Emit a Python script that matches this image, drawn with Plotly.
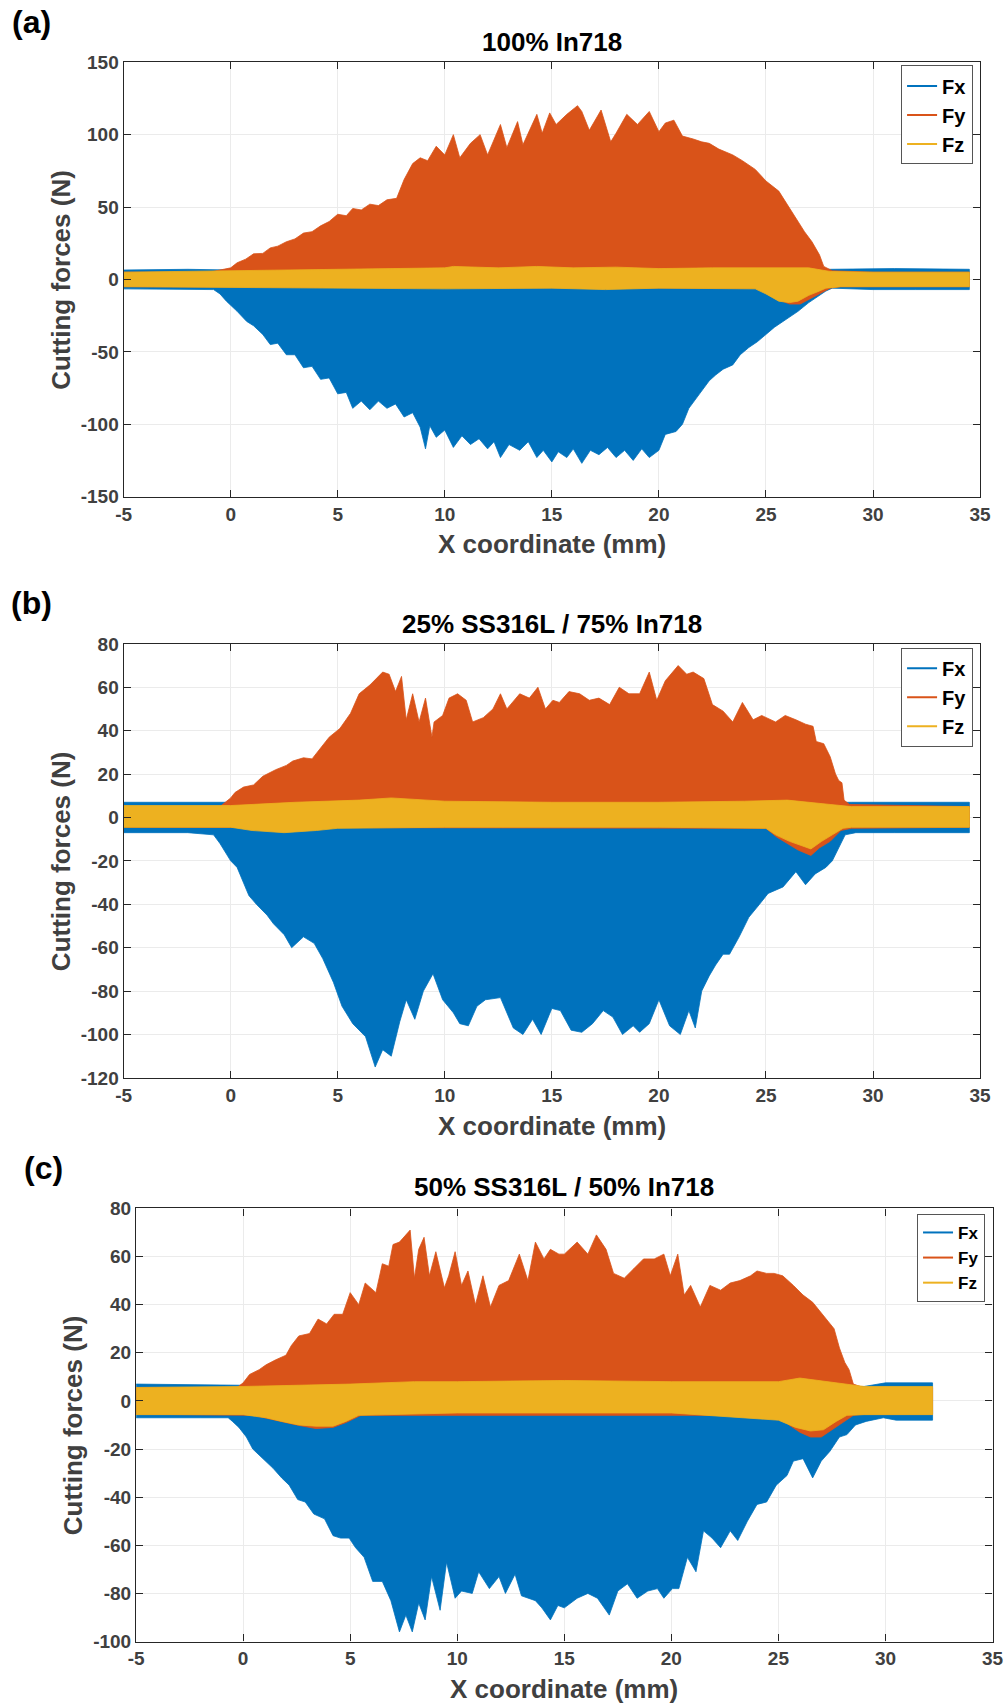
import plotly.graph_objects as go

# ---------------- colours ----------------
C_FX = "#0072BD"
C_FY = "#D95319"
C_FZ = "#EDB120"

# ---------------- axis ticks ----------------
X_TICKS = [-5, 0, 5, 10, 15, 20, 25, 30, 35]
X_TICKTEXT = ["-5", "0", "5", "10", "15", "20", "25", "30", "35"]
A_Y_TICKS = [-150, -100, -50, 0, 50, 100, 150]
A_Y_TICKTEXT = ["-150", "-100", "-50", "0", "50", "100", "150"]
B_Y_TICKS = [-120, -100, -80, -60, -40, -20, 0, 20, 40, 60, 80]
B_Y_TICKTEXT = ["-120", "-100", "-80", "-60", "-40", "-20", "0", "20", "40", "60", "80"]
C_Y_TICKS = [-100, -80, -60, -40, -20, 0, 20, 40, 60, 80]
C_Y_TICKTEXT = ["-100", "-80", "-60", "-40", "-20", "0", "20", "40", "60", "80"]

TITLES = ["100% In718", "25% SS316L / 75% In718", "50% SS316L / 50% In718"]
PANEL_LABELS = ["(a)", "(b)", "(c)"]
SERIES = ["Fx", "Fy", "Fz"]

# ======================= panel (a): 100% In718 =======================
a_fx_top_x = [-5, -2, 0, 15, 28, 31, 34.5]
a_fx_top = [6.5, 7.0, 6.5, 5.5, 7.0, 7.5, 7.0]
a_fx_bot_x = [-5, -2, -0.8, -0.5, -0.2, 0.3, 0.75, 1.07, 1.5, 1.85, 2.2, 2.6, 3.0, 3.4, 3.8, 4.2,
              4.6, 5.0, 5.4, 5.7, 6.1, 6.5, 6.9, 7.3, 7.7, 8.1, 8.5, 8.85, 9.1, 9.3, 9.6, 10.0,
              10.4, 10.8, 11.2, 11.6, 12.0, 12.3, 12.6, 13.0, 13.5, 13.9, 14.3, 14.6, 15.0, 15.3,
              15.7, 16.0, 16.4, 16.8, 17.2, 17.6, 18.0, 18.4, 18.8, 19.2, 19.55, 20.0, 20.3,
              20.8, 21.1, 21.4, 21.9, 22.35, 22.65, 23.0, 23.45, 23.8, 24.2, 24.6, 25.0, 25.4,
              25.8, 26.1, 26.5, 27.0, 27.3, 27.8, 28.1, 30, 32, 34.5]
a_fx_bot = [-6.5, -7, -7, -10, -15, -22, -29, -32, -38, -45, -44, -52, -52, -61, -60, -69,
            -68, -79, -78, -89, -84, -90, -84, -89, -86, -95, -92, -102, -117, -101, -109, -104,
            -116, -108, -114, -110, -117, -112, -123, -114, -118, -112, -123, -118, -126, -119,
            -123, -117, -127, -118, -121, -116, -123, -118, -125, -117, -123, -118, -107,
            -105, -100, -89, -79, -70, -66, -62, -59, -52, -47, -43, -38, -33,
            -29, -26, -22, -16, -13, -8, -6, -7, -7, -7]
a_fy_top_x = [-5, -1, 0, 0.3, 0.7, 1.07, 1.5, 1.85, 2.2, 2.6, 3.0, 3.4, 3.8, 4.2, 4.6, 5.0,
              5.4, 5.7, 6.1, 6.5, 6.9, 7.3, 7.75, 8.1, 8.5, 8.85, 9.2, 9.6, 10.0, 10.4, 10.7,
              11.2, 11.65, 12.0, 12.6, 12.9, 13.4, 13.65, 14.3, 14.55, 14.9, 15.2, 15.7, 16.2,
              16.4, 16.75, 17.3, 17.75, 18.0, 18.5, 19.0, 19.55, 20.0, 20.3, 20.7, 21.1, 21.6,
              22.0, 22.35, 22.8, 23.45, 23.9, 24.5, 25.0, 25.6, 26.1, 26.5, 26.8, 27.15, 27.5,
              27.7, 28.1, 30, 34.5]
a_fy_top = [5, 5, 8, 11.5, 14, 17.7, 18, 21.8, 23, 26, 28, 32, 33, 37, 40, 45,
            44, 49, 48, 52, 51, 55, 56, 69, 80, 84, 82, 92, 86, 100, 84,
            94, 100, 86, 107, 91, 109, 93, 114, 101, 115, 107, 114, 120,
            116, 103, 117, 95, 101, 114, 107, 116, 102, 108, 110, 99, 97,
            95, 94, 90, 86, 82, 76, 68, 61, 49, 40, 33, 26, 17,
            9, 6, 5, 5]
a_fy_bot_x = [-5, 24.5, 25.0, 25.6, 26.1, 26.6, 27.0, 27.5, 28.0, 28.5, 34.5]
a_fy_bot = [-5, -6, -9, -14, -17, -17, -14, -10, -6, -5, -5]
a_fz_top_x = [-5, 0, 2.5, 5, 7.5, 10, 10.4, 12.5, 14.3, 16, 18, 20, 22.5, 25, 26, 27, 28, 30, 34.5]
a_fz_top = [5, 6, 6.5, 7, 7.5, 8, 9, 8, 9, 8, 8.5, 7.5, 8, 8, 8.5, 8, 5.5, 5, 5]
a_fz_bot_x = [-5, 0, 5, 10, 15, 17.5, 20, 24.5, 25, 25.6, 26.1, 26.5, 27.0, 27.5, 27.8, 28.5, 34.5]
a_fz_bot = [-5, -5.5, -6, -6.5, -6, -7, -6, -6.5, -10, -15, -16, -15, -11, -8, -6, -5, -5]

# ================= panel (b): 25% SS316L / 75% In718 =================
b_fx_top_x = [-5, 0, 15, 29, 34.5]
b_fx_top = [7, 7, 6, 7, 7]
b_fx_bot_x = [-5, -2, -0.8, -0.5, 0, 0.3, 0.85, 1.2, 1.7, 2.0, 2.5, 2.85, 3.4, 3.9, 4.3, 4.8,
              5.2, 5.7, 6.3, 6.75, 7.1, 7.5, 7.9, 8.2, 8.6, 9.0, 9.45, 9.9, 10.4, 10.7, 11.1,
              11.5, 11.9, 12.6, 13.2, 13.65, 14.1, 14.5, 15.0, 15.4, 15.9, 16.4, 16.9, 17.4,
              17.85, 18.3, 18.8, 19.1, 19.55, 20.0, 20.5, 21.0, 21.4, 21.7, 22.0, 22.35, 22.65,
              23.0, 23.3, 23.75, 24.2, 24.7, 25.1, 25.8, 26.4, 26.85, 27.3, 27.8, 28.1, 28.4,
              28.7, 29.2, 31, 34.5]
b_fx_bot = [-7, -7, -8, -12, -20, -23, -36, -40, -45, -49, -54, -60, -55, -58, -65, -76,
            -87, -95, -101, -115, -107, -110, -94, -84, -93, -80, -72, -84, -90, -95, -96,
            -87, -84, -83, -97, -100, -93, -100, -88, -89, -98, -99, -95, -89,
            -92, -100, -96, -99, -95, -84, -96, -100, -89, -97, -80, -73, -68,
            -63, -63, -55, -46, -40, -35, -32, -25, -31, -26, -23, -20, -14,
            -8, -7, -7, -7]
b_fy_top_x = [-5, -0.5, 0, 0.2, 0.6, 1.07, 1.5, 2.1, 2.6, 2.9, 3.4, 3.8, 4.2, 4.6, 5.1, 5.6,
              6.0, 6.5, 7.1, 7.4, 7.7, 7.98, 8.2, 8.5, 8.8, 9.1, 9.4, 9.5, 9.9, 10.2, 10.6,
              11.0, 11.3, 11.8, 12.25, 12.6, 12.9, 13.5, 13.95, 14.35, 14.7, 15.05, 15.35,
              15.8, 16.3, 16.75, 17.2, 17.7, 18.15, 18.6, 19.1, 19.55, 19.9, 20.3, 20.9, 21.3,
              21.6, 22.1, 22.5, 23.0, 23.45, 23.9, 24.4, 24.8, 25.45, 25.9, 26.4, 26.85, 27.2,
              27.35, 27.7, 28.0, 28.25, 28.4, 28.55, 28.65, 28.9, 34.5]
b_fy_top = [5, 5, 9, 11.5, 14, 15, 19, 22, 24, 26, 27.5, 27, 32, 37, 41, 48,
            57, 61, 67, 66, 58, 65, 45, 57, 44, 55, 37, 44, 47, 55, 57,
            54, 44, 46, 50, 57, 50, 57, 55, 60, 50, 54, 53,
            58, 57, 54, 55, 52, 60, 57, 57, 67, 54, 63, 70, 66,
            67, 64, 52, 49, 44, 53, 45, 47, 44, 47, 45, 43, 42,
            35, 34, 28, 20, 17, 16, 8, 6, 5]
b_fy_bot_x = [-5, 25, 25.5, 26, 26.5, 27.1, 27.5, 28, 28.5, 29, 34.5]
b_fy_bot = [-4.5, -5, -9, -12, -15, -17.5, -14, -11, -6, -5, -4.5]
b_fz_top_x = [-5, 0, 3, 6, 7.5, 10, 15, 20, 24, 26, 28, 29, 34.5]
b_fz_top = [5.5, 5.5, 7, 8, 9, 7.5, 7, 7, 7.5, 8, 6, 5, 5]
b_fz_bot_x = [-5, 0, 1, 2.5, 4, 5, 10, 20, 25, 25.45, 26.1, 26.7, 27.1, 27.6, 28.1, 28.6, 29, 34.5]
b_fz_bot = [-4.5, -4.5, -6, -7, -6, -5, -4.5, -4.5, -5, -8, -11, -13, -14.5, -11, -8, -5, -4.5, -4.5]

# ================= panel (c): 50% SS316L / 50% In718 =================
c_fx_top_x = [-5, 0, 15, 28.5, 29, 30, 32.2]
c_fx_top = [7, 6.5, 6, 6, 6, 7.5, 7.5]
c_fx_bot_x = [-5, -2, -0.7, -0.5, -0.2, 0.15, 0.45, 0.9, 1.4, 1.8, 2.15, 2.55, 2.9, 3.3, 3.8,
              4.2, 4.55, 4.95, 5.25, 5.65, 6.05, 6.5, 6.9, 7.3, 7.6, 7.9, 8.2, 8.5, 8.8, 9.2,
              9.5, 9.9, 10.2, 10.7, 11.0, 11.5, 11.95, 12.25, 12.7, 13.0, 13.65, 13.95, 14.35,
              14.7, 15.0, 15.6, 16.1, 16.55, 17.1, 17.5, 17.95, 18.4, 18.9, 19.35, 19.65,
              20.05, 20.35, 20.75, 21.15, 21.5, 21.9, 22.3, 22.75, 23.1, 23.55, 24.0, 24.45,
              24.9, 25.4, 25.7, 26.15, 26.6, 27.0, 27.4, 27.85, 28.2, 28.6, 29.1, 29.9, 30.5, 32.2]
c_fx_bot = [-7, -7, -7, -8.5, -11, -15, -20, -24, -28, -32, -35, -41, -42, -47, -49,
            -56, -57, -57, -61, -65, -75, -75, -83, -96, -89, -96, -84, -91, -73, -87,
            -67, -82, -79, -80, -71, -78, -73, -80, -72, -81, -83, -86, -91,
            -85, -86, -82, -80, -82, -89, -79, -76, -82, -79, -78, -82,
            -78, -78, -65, -71, -54, -57, -61, -54, -58, -50, -43, -42,
            -35, -31, -25, -24, -32, -25, -21, -15, -14, -10, -8.5, -7, -8, -8]
c_fy_top_x = [-5, -0.3, 0, 0.3, 0.75, 1.07, 1.5, 2.0, 2.25, 2.6, 3.1, 3.5, 3.9, 4.25, 4.65,
              5.0, 5.4, 5.7, 6.2, 6.5, 6.8, 7.0, 7.3, 7.8, 8.0, 8.2, 8.45, 8.7, 9.0, 9.4, 9.6,
              9.9, 10.2, 10.5, 10.85, 11.2, 11.55, 11.95, 12.4, 12.9, 13.3, 13.65, 14.05,
              14.35, 14.75, 15.0, 15.6, 16.1, 16.5, 16.95, 17.3, 17.8, 18.25, 18.7, 19.2,
              19.65, 19.95, 20.3, 20.6, 20.9, 21.35, 21.8, 22.3, 22.75, 23.2, 23.7, 24.0,
              24.45, 24.8, 25.2, 25.7, 26.15, 26.6, 27.25, 27.6, 27.85, 28.1, 28.3, 28.5, 29, 32.2]
c_fy_top = [5.5, 5.5, 7.5, 11, 13, 15, 17, 19, 23, 27, 28, 34, 32, 36, 36,
            45, 40, 49, 45, 57, 56, 65, 66, 71, 51, 63, 68, 52, 62, 47, 52,
            62, 48, 54, 40, 52, 39, 48, 50, 61, 50, 66, 59,
            63, 61, 61, 66, 61, 69, 63, 53, 51, 55, 59, 59,
            61, 52, 61, 44, 48, 39, 48, 46, 49, 50, 52, 54,
            53, 53, 52, 48, 44, 41, 34, 30, 22, 16, 13, 7, 5.5, 5.5]
c_fy_bot_x = [-5, 0.5, 1.5, 2.5, 3.4, 4.2, 4.8, 5.5, 25, 25.5, 26, 26.5, 27, 27.5, 28, 28.5, 29, 32.2]
c_fy_bot = [-5.5, -6, -8, -10, -11.5, -11, -9, -6, -6, -10, -13, -15, -15, -12, -9, -6, -5.5, -5.5]
c_fz_top_x = [-5, 0, 5, 8, 10, 15, 20, 25, 26, 28, 29, 32.2]
c_fz_top = [5.6, 6, 7, 8, 8, 8.5, 8, 8, 9.5, 7, 6, 6]
c_fz_bot_x = [-5, 0, 1.07, 1.8, 2.6, 3.4, 4.2, 4.8, 5.4, 10, 20, 25, 25.8, 26.5, 27.1, 27.7, 28.2, 29, 32.2]
c_fz_bot = [-5.7, -5.7, -7, -8.5, -10, -10.5, -10.5, -8.5, -6, -5, -5, -8, -11, -12.5, -12, -8.5, -6, -5.7, -5.7]

PANELS = [
    dict(fx=(a_fx_top_x, a_fx_top, a_fx_bot_x, a_fx_bot),
         fy=(a_fy_top_x, a_fy_top, a_fy_bot_x, a_fy_bot),
         fz=(a_fz_top_x, a_fz_top, a_fz_bot_x, a_fz_bot),
         yr=[-150, 150], yt=A_Y_TICKS, ytt=A_Y_TICKTEXT),
    dict(fx=(b_fx_top_x, b_fx_top, b_fx_bot_x, b_fx_bot),
         fy=(b_fy_top_x, b_fy_top, b_fy_bot_x, b_fy_bot),
         fz=(b_fz_top_x, b_fz_top, b_fz_bot_x, b_fz_bot),
         yr=[-120, 80], yt=B_Y_TICKS, ytt=B_Y_TICKTEXT),
    dict(fx=(c_fx_top_x, c_fx_top, c_fx_bot_x, c_fx_bot),
         fy=(c_fy_top_x, c_fy_top, c_fy_bot_x, c_fy_bot),
         fz=(c_fz_top_x, c_fz_top, c_fz_bot_x, c_fz_bot),
         yr=[-100, 80], yt=C_Y_TICKS, ytt=C_Y_TICKTEXT),
]

# ---------------- layout geometry ----------------
W, H = 1007, 1707
# measured page framing: screen = offset + scale * figure coordinate
SX, AX = 0.9835, 7.6
SY, AY = 0.989, 8.5


def px(x):
    return ((x - AX) / SX) / W


def py(y):
    return 1 - ((y - AY) / SY) / H


X_DOM = [[px(123.5), px(982)], [px(123.5), px(982)], [px(136), px(994.5)]]
Y_DOM = [[py(495.8), py(60.8)], [py(1077.8), py(643.2)], [py(1642.2), py(1208.5)]]

FONT = "Liberation Sans, Arial, sans-serif"
AX_COL = "#262626"
TXT_GRAY = "#404040"

fig = go.Figure()
colors = dict(fx=C_FX, fy=C_FY, fz=C_FZ)
legend_names = ["legend", "legend2", "legend3"]

for i, p in enumerate(PANELS):
    sfx = "" if i == 0 else str(i + 1)
    for key in ["fx", "fy", "fz"]:
        xt, yt_, xb, yb = p[key]
        xs = list(xt) + list(xb)[::-1]
        ys = list(yt_) + list(yb)[::-1]
        fig.add_trace(go.Scatter(
            x=xs, y=ys, mode="lines", fill="toself", fillcolor=colors[key],
            line=dict(color=colors[key], width=0.8), hoverinfo="skip",
            showlegend=False, xaxis="x" + sfx, yaxis="y" + sfx))
    for key, name in zip(["fx", "fy", "fz"], SERIES):
        fig.add_trace(go.Scatter(
            x=[None], y=[None], mode="lines", name=name,
            line=dict(color=colors[key], width=2),
            legend=legend_names[i], showlegend=True,
            xaxis="x" + sfx, yaxis="y" + sfx))

layout = dict(
    width=W, height=H, margin=dict(l=0, r=0, t=0, b=0),
    paper_bgcolor="white", plot_bgcolor="white", showlegend=True,
)

for i, p in enumerate(PANELS):
    sfx = "" if i == 0 else str(i + 1)
    common = dict(showline=True, linecolor=AX_COL, linewidth=1.2, mirror="ticks",
                  ticks="inside", ticklen=7, tickwidth=1.2, tickcolor=AX_COL,
                  showgrid=True, gridcolor="#ebebeb", gridwidth=1, zeroline=False,
                  tickfont=dict(family=FONT, size=19, color=TXT_GRAY, weight="bold"))
    layout["xaxis" + sfx] = dict(domain=X_DOM[i], anchor="y" + sfx, range=[-5, 35],
                                 tickmode="array", tickvals=X_TICKS, ticktext=X_TICKTEXT,
                                 **common)
    layout["yaxis" + sfx] = dict(domain=Y_DOM[i], anchor="x" + sfx, range=p["yr"],
                                 tickmode="array", tickvals=p["yt"], ticktext=p["ytt"],
                                 **common)

LEG_POS = [(px(975), py(64), 20), (px(975), py(647), 20), (px(987), py(1214), 17)]
for i, (lx, ly, fs) in enumerate(LEG_POS):
    layout[legend_names[i]] = dict(
        x=lx, y=ly, xanchor="right", yanchor="top", bgcolor="white",
        bordercolor="#555555", borderwidth=1,
        font=dict(family=FONT, size=fs, color="black", weight="bold"),
        itemwidth=30, tracegroupgap=0)

fig.update_layout(**layout)

# ---------------- text annotations ----------------
LABEL_POS = [(31, 21), (31, 602), (43, 1168)]
TITLE_Y = [41, 623, 1187]
XTITLE_Y = [543, 1126, 1690]
YTITLE_X = [61, 61, 73]
annotations = []
for i in range(3):
    annotations.append(dict(text="<b>%s</b>" % PANEL_LABELS[i], x=px(LABEL_POS[i][0]),
                            y=py(LABEL_POS[i][1]), xref="paper", yref="paper",
                            showarrow=False, font=dict(family=FONT, size=32, color="black"),
                            xanchor="center", yanchor="middle"))
    xc = (X_DOM[i][0] + X_DOM[i][1]) / 2
    yc = (Y_DOM[i][0] + Y_DOM[i][1]) / 2
    annotations.append(dict(text="<b>%s</b>" % TITLES[i], x=xc, y=py(TITLE_Y[i]),
                            xref="paper", yref="paper", showarrow=False,
                            font=dict(family=FONT, size=26, color="black"),
                            xanchor="center", yanchor="middle"))
    annotations.append(dict(text="<b>X coordinate (mm)</b>", x=xc, y=py(XTITLE_Y[i]),
                            xref="paper", yref="paper", showarrow=False,
                            font=dict(family=FONT, size=26, color=TXT_GRAY),
                            xanchor="center", yanchor="middle"))
    annotations.append(dict(text="<b>Cutting forces (N)</b>", x=px(YTITLE_X[i]), y=yc,
                            xref="paper", yref="paper", showarrow=False, textangle=-90,
                            font=dict(family=FONT, size=26, color=TXT_GRAY),
                            xanchor="center", yanchor="middle"))
fig.update_layout(annotations=annotations)

fig.write_html("out.html")
